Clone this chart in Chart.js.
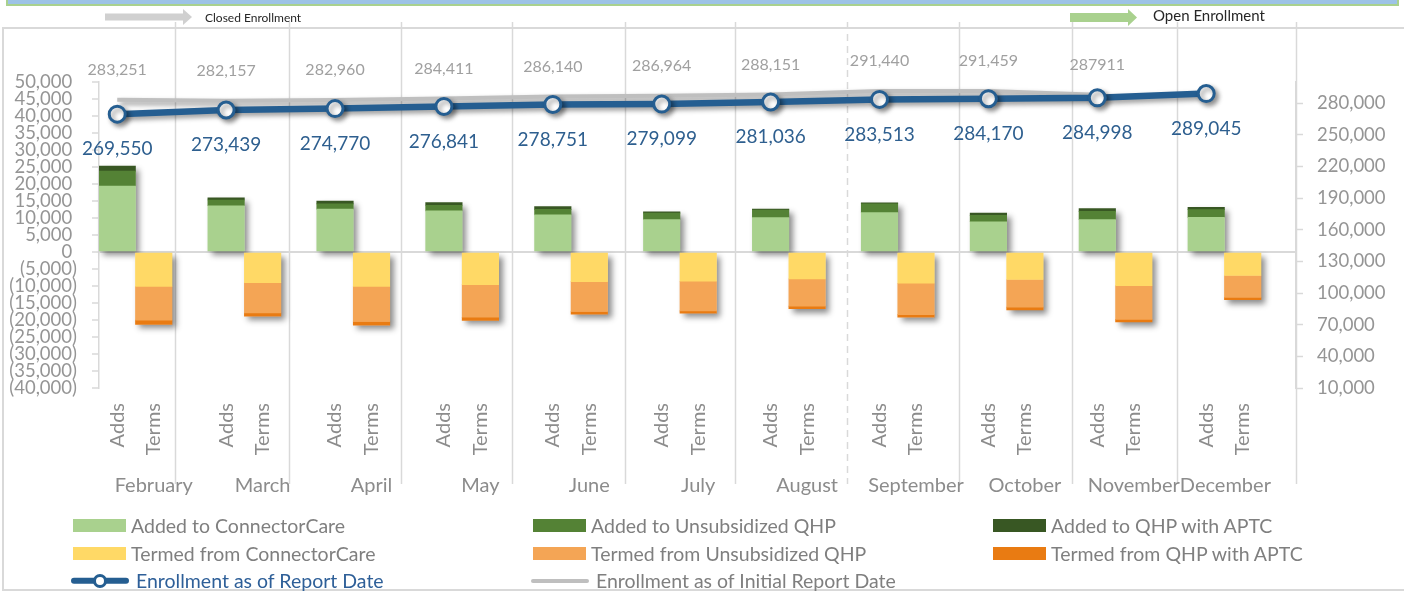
<!DOCTYPE html>
<html>
<head>
<meta charset="utf-8">
<title>Enrollment adds and terms</title>
<script src="https://cdn.jsdelivr.net/npm/chart.js@4.4.1/dist/chart.umd.min.js"></script>
<style>
  body { margin: 0; background: #fff; }
  #wrap { position: relative; width: 1404px; height: 591px; overflow: hidden; }
  #legend {
    position: absolute; left: 73px; top: 512px;
    display: grid; grid-template-columns: 460px 460px 460px; grid-auto-rows: 27.5px;
    font: 19.5px Lato, sans-serif; color: #7F7F7F;
  }
  .item { display: flex; align-items: center; white-space: nowrap; }
  .box { width: 53px; height: 13px; margin-right: 5px; }
  .line { position: relative; width: 58px; height: 16px; margin: 0 7px 0 -2px; }
  .line b { position: absolute; left: 0; right: 0; top: 50%; transform: translateY(-50%); border-radius: 3px; }
  .line i { position: absolute; left: 50%; top: 50%; width: 8px; height: 8px; margin: -7px 0 0 -7px; background: #fff; border: 3px solid; border-radius: 50%; }
</style>
</head>
<body>
<div id="wrap">
  <canvas id="chart" width="1404" height="591"></canvas>
  <div id="legend"></div>
</div>
<script>
(function () {
  'use strict';

  var months = ['February', 'March', 'April', 'May', 'June', 'July', 'August', 'September', 'October', 'November', 'December'];
  var subLabels = ['Adds', 'Terms'];

  var addedConnectorCare = [19400, 13600, 12600, 12100, 10900, 9500, 10100, 11600, 8900, 9500, 10200];
  var addedUnsubsidized = [4400, 1700, 1550, 1650, 1650, 1950, 2250, 2550, 1850, 2450, 2250];
  var addedAptc = [1450, 600, 800, 800, 800, 400, 300, 300, 700, 800, 700];
  var termedConnectorCare = [-10100, -9000, -10100, -9600, -8700, -8600, -7900, -9200, -8100, -9900, -6900];
  var termedUnsubsidized = [-9950, -8900, -10350, -9600, -8800, -8700, -8000, -9200, -8100, -9900, -6450];
  var termedAptc = [-1250, -1000, -1100, -900, -800, -700, -800, -800, -800, -800, -700];

  var enrolled = [269550, 273439, 274770, 276841, 278751, 279099, 281036, 283513, 284170, 284998, 289045];
  var initial = [283251, 282157, 282960, 284411, 286140, 286964, 288151, 291440, 291459, 287911, null];
  var initialLabels = ['283,251', '282,157', '282,960', '284,411', '286,140', '286,964', '288,151', '291,440', '291,459', '287911', ''];

  var rightTicks = [10000, 40000, 70000, 100000, 130000, 160000, 190000, 220000, 250000, 280000];

  // decoration: month divider lines, in month units on the x axis
  var dividerAt = [0.363, 1.41, 2.438, 3.457, 4.495, 5.505, 6.534, 7.562, 8.6, 9.564, 10.656];
  var dashedDivider = 6;

  // Adds sit left of the month slot, Terms right of it (half a bar each way)
  var pairOffset = 0.1676;
  var xMin = -0.335;
  var xMax = 10.657;

  var font = 'Lato, sans-serif';

  function fmt(v) {
    return Math.abs(v).toLocaleString('en-US');
  }

  function points(values, shift) {
    return values.map(function (v, i) { return { x: i + shift, y: v }; });
  }

  function bar(label, values, color, stack) {
    return {
      type: 'bar', label: label, backgroundColor: color, stack: stack,
      data: points(values, stack === 'adds' ? -pairOffset : pairOffset),
      order: 1, grouped: false, categoryPercentage: 1, barPercentage: 1, borderWidth: 0
    };
  }

  var decor = {
    id: 'decor',
    beforeDraw: function (chart) {
      var ctx = chart.ctx;
      ctx.save();
      ctx.fillStyle = '#fff';
      ctx.fillRect(0, 0, chart.width, chart.height);
      ctx.strokeStyle = '#D9D9D9';
      ctx.lineWidth = 2;
      ctx.strokeRect(3, 28, chart.width + 20, 562);
      ctx.restore();
    },
    beforeDatasetsDraw: function (chart) {
      var ctx = chart.ctx;
      var x = chart.scales.x;
      ctx.save();
      ctx.strokeStyle = '#D9D9D9';
      ctx.lineWidth = 1.5;
      dividerAt.forEach(function (v, i) {
        var px = Math.round(x.getPixelForValue(v)) + 0.5;
        ctx.setLineDash(i === dashedDivider ? [7, 5] : []);
        ctx.beginPath();
        ctx.moveTo(px, 22);
        ctx.lineTo(px, 484);
        ctx.stroke();
      });
      ctx.restore();

      // soft shadow under each whole stack
      ctx.save();
      ctx.shadowColor = 'rgba(0,0,0,0.45)';
      ctx.shadowBlur = 6;
      ctx.shadowOffsetX = 4;
      ctx.shadowOffsetY = 4;
      ctx.fillStyle = '#fff';
      [[0, 1, 2], [3, 4, 5]].forEach(function (group) {
        months.forEach(function (m, i) {
          var top = Infinity, bottom = -Infinity, left = 0, width = 0;
          group.forEach(function (d) {
            var el = chart.getDatasetMeta(d).data[i];
            top = Math.min(top, el.y, el.base);
            bottom = Math.max(bottom, el.y, el.base);
            left = el.x - el.width / 2;
            width = el.width;
          });
          ctx.fillRect(left, top, width, bottom - top);
        });
      });
      ctx.restore();
    },
    beforeDatasetDraw: function (chart, args) {
      if (args.meta.type !== 'line') return;
      var ctx = chart.ctx;
      ctx.save();
      ctx.shadowColor = 'rgba(0,0,0,0.4)';
      ctx.shadowBlur = 5;
      ctx.shadowOffsetX = 3;
      ctx.shadowOffsetY = 3;
    },
    afterDatasetDraw: function (chart, args) {
      if (args.meta.type !== 'line') return;
      chart.ctx.restore();
    },
    afterDatasetsDraw: function (chart) {
      var ctx = chart.ctx;
      ctx.save();
      ctx.textAlign = 'center';
      ctx.textBaseline = 'middle';
      ctx.font = '19px ' + font;
      ctx.fillStyle = '#2E5F8F';
      chart.getDatasetMeta(6).data.forEach(function (pt, i) {
        ctx.fillText(fmt(enrolled[i]), pt.x, pt.y + 35);
      });
      ctx.font = '16px ' + font;
      ctx.fillStyle = '#A0A0A0';
      chart.getDatasetMeta(7).data.forEach(function (pt, i) {
        if (initial[i] === null) return;
        ctx.fillText(initialLabels[i], pt.x, pt.y - 30);
      });
      ctx.restore();
    },
    afterDraw: function (chart) {
      var ctx = chart.ctx;
      var area = chart.chartArea;
      var adds = chart.getDatasetMeta(0).data;
      var terms = chart.getDatasetMeta(3).data;
      ctx.save();
      ctx.fillStyle = '#8C8C8C';
      ctx.font = '20px ' + font;
      ctx.textBaseline = 'middle';
      months.forEach(function (m, i) {
        [adds[i], terms[i]].forEach(function (el, k) {
          ctx.save();
          ctx.translate(el.x, area.bottom + 15);
          ctx.rotate(-Math.PI / 2);
          ctx.textAlign = 'right';
          ctx.fillText(subLabels[k], 0, 0);
          ctx.restore();
        });
      });
      // month names sit under the Terms bar; the last one is pushed up
      // against its neighbour, as in the original
      ctx.textAlign = 'left';
      var prevRight = -Infinity;
      months.forEach(function (m, i) {
        var w = ctx.measureText(m).width;
        var left = i === months.length - 1 ? prevRight : Math.max(terms[i].x - w / 2, prevRight);
        ctx.fillText(m, left, 486);
        prevRight = left + w;
      });

      // title banner remnant
      ctx.fillStyle = '#9DC3E6';
      ctx.strokeStyle = '#A9D18E';
      ctx.lineWidth = 2;
      ctx.fillRect(7, -4, 1391, 9);
      ctx.strokeRect(7, -4, 1391, 9);

      // enrollment period arrows
      function arrow(x0, x1, y, shaft, head, headLen, color) {
        ctx.fillStyle = color;
        ctx.beginPath();
        ctx.moveTo(x0, y - shaft / 2);
        ctx.lineTo(x1 - headLen, y - shaft / 2);
        ctx.lineTo(x1 - headLen, y - head / 2);
        ctx.lineTo(x1, y);
        ctx.lineTo(x1 - headLen, y + head / 2);
        ctx.lineTo(x1 - headLen, y + shaft / 2);
        ctx.lineTo(x0, y + shaft / 2);
        ctx.closePath();
        ctx.fill();
      }
      arrow(105, 192, 17, 7, 16, 9, '#D0D0D0');
      arrow(1070, 1137, 17.5, 9, 17, 9, '#A9D18E');
      ctx.fillStyle = '#262626';
      ctx.font = '12px ' + font;
      ctx.fillText('Closed Enrollment', 205, 18);
      ctx.font = '15px ' + font;
      ctx.fillText('Open Enrollment', 1153, 16);
      ctx.restore();
    }
  };

  var datasets = [
    bar('Added to ConnectorCare', addedConnectorCare, '#A9D18E', 'adds'),
    bar('Added to Unsubsidized QHP', addedUnsubsidized, '#548235', 'adds'),
    bar('Added to QHP with APTC', addedAptc, '#385723', 'adds'),
    bar('Termed from ConnectorCare', termedConnectorCare, '#FFD966', 'terms'),
    bar('Termed from Unsubsidized QHP', termedUnsubsidized, '#F4A555', 'terms'),
    bar('Termed from QHP with APTC', termedAptc, '#E97B12', 'terms'),
    {
      type: 'line', label: 'Enrollment as of Report Date', data: points(enrolled, -pairOffset),
      yAxisID: 'y1', order: 0, clip: false,
      borderColor: '#255E91', borderWidth: 6.5, tension: 0,
      pointRadius: 8, pointBorderWidth: 3, pointBackgroundColor: '#fff', pointBorderColor: '#255E91',
      legendColor: '#2E5F98'
    },
    {
      type: 'line', label: 'Enrollment as of Initial Report Date', data: points(initial, -pairOffset),
      yAxisID: 'y1', order: 0, clip: false,
      borderColor: '#BFBFBF', borderWidth: 4, tension: 0, pointRadius: 0,
      legendColor: '#7F7F7F'
    }
  ];

  var tickFont = { family: font, size: 18.5 };

  var chart = new Chart(document.getElementById('chart'), {
    type: 'bar',
    data: { datasets: datasets },
    plugins: [decor],
    options: {
      responsive: false,
      animation: false,
      events: [],
      layout: { padding: { top: 82, bottom: 203, left: 0, right: 0 } },
      plugins: { legend: { display: false }, tooltip: { enabled: false } },
      scales: {
        x: {
          type: 'linear', display: false, offset: false, min: xMin, max: xMax,
          grid: { offset: false },
          ticks: { stepSize: 1, includeBounds: false }
        },
        y: {
          position: 'left', stacked: true, min: -40000, max: 50000,
          afterFit: function (scale) { scale.width = 99; },
          ticks: {
            stepSize: 5000, autoSkip: false, padding: 15, color: '#959595', font: tickFont,
            callback: function (v) { return v < 0 ? '(' + fmt(v) + ')' : fmt(v) + ' '; }
          },
          grid: {
            color: function (c) { return c.tick && c.tick.value === 0 ? '#D9D9D9' : 'rgba(0,0,0,0)'; },
            lineWidth: 2, tickColor: '#D9D9D9', tickLength: 7, tickWidth: 1.5
          },
          border: { color: '#D9D9D9', width: 1.5 }
        },
        y1: {
          position: 'right', min: 10000, max: 300000,
          afterFit: function (scale) { scale.width = 108; },
          afterBuildTicks: function (scale) {
            scale.ticks = rightTicks.map(function (v) { return { value: v }; });
          },
          ticks: {
            autoSkip: false, padding: 14, color: '#959595', font: tickFont,
            callback: function (v) { return fmt(v); }
          },
          grid: { drawOnChartArea: false, tickColor: '#D9D9D9', tickLength: 7, tickWidth: 1.5 },
          border: { color: '#D9D9D9', width: 2 }
        }
      }
    }
  });

  document.getElementById('legend').innerHTML = chart.data.datasets.map(function (ds) {
    if (ds.type === 'line') {
      var dot = ds.pointRadius ? '<i style="border-color:' + ds.borderColor + '"></i>' : '';
      return '<div class="item" style="color:' + ds.legendColor + '"><span class="line"><b style="height:' +
        ds.borderWidth + 'px;background:' + ds.borderColor + '"></b>' + dot + '</span>' + ds.label + '</div>';
    }
    return '<div class="item"><span class="box" style="background:' + ds.backgroundColor + '"></span>' + ds.label + '</div>';
  }).join('');
})();
</script>
</body>
</html>
